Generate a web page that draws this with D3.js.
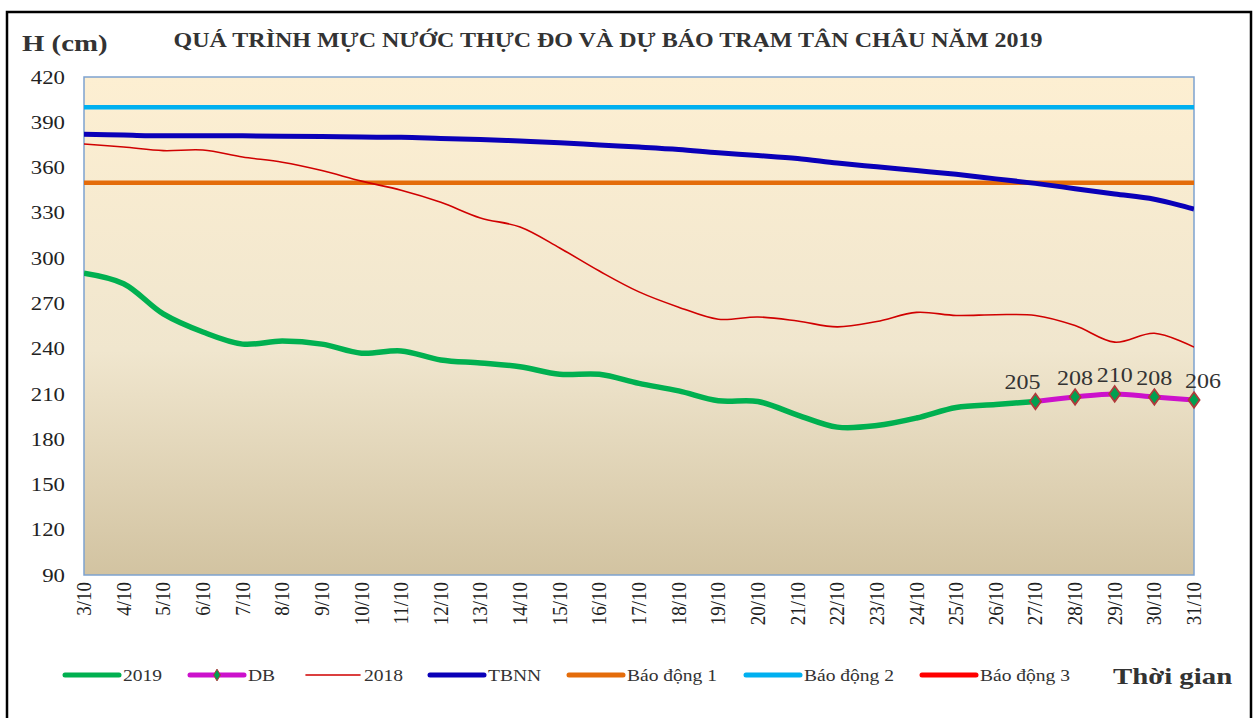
<!DOCTYPE html>
<html>
<head>
<meta charset="utf-8">
<script src="https://cdn.jsdelivr.net/npm/d3@7"></script>
<style>
  body { margin: 0; background: #fff; }
  text { font-family: "Liberation Serif", "DejaVu Serif", serif; }
</style>
</head>
<body>
<div id="chart"></div>
<script>
/* data */
var dates = ["3/10","4/10","5/10","6/10","7/10","8/10","9/10","10/10","11/10","12/10",
             "13/10","14/10","15/10","16/10","17/10","18/10","19/10","20/10","21/10","22/10",
             "23/10","24/10","25/10","26/10","27/10","28/10","29/10","30/10","31/10"];
var y2019 = [290,283,263,251,243,245,243,237,238.5,232.5,230.5,228,223,223,217,212,205.5,205,196,188,189,194,201,203,205];
var dbDates = ["27/10","28/10","29/10","30/10","31/10"];
var db = [205,208,210,208,206];
var y2018 = [375.6,373.6,371.2,371.6,367,363.5,358,351,345,337,326.6,320.6,306.7,291.4,277.6,267.5,259.5,261,258.3,254.4,258,264,262,262.5,262,255.3,244.3,250.2,241];
var tbnn = [382,381.5,381,381,381,380.8,380.5,380.2,380,379.3,378.6,377.6,376.5,375,373.6,372,369.8,368,366,363,360.5,358,355.5,352.5,349.5,346,342.5,339,332.5];
var alarms = [350, 400, 450];
var yTicks = [90,120,150,180,210,240,270,300,330,360,390,420];

var width = 1259, height = 718;
var margin = {left: 84, right: 65, top: 77, bottom: 143};
var sx = 1.2; /* the picture is a little wider than tall, text too */

var svg = d3.select("#chart").append("svg")
    .attr("width", width)
    .attr("height", height);

/* outer frame */
svg.append("rect")
    .attr("x", 7).attr("y", 12)
    .attr("width", 1244).attr("height", 720)
    .attr("fill", "none")
    .attr("stroke", "#000")
    .attr("stroke-width", 2.5);

var x = d3.scalePoint().domain(dates).range([margin.left, width - margin.right]);
var y = d3.scaleLinear().domain([90, 420]).range([height - margin.bottom, margin.top]);

/* plot background gradient */
var defs = svg.append("defs");
var grad = defs.append("linearGradient").attr("id", "bg")
    .attr("x1", 0).attr("y1", 0).attr("x2", 0).attr("y2", 1);
grad.append("stop").attr("offset", "0%").attr("stop-color", "#FDEFD2");
grad.append("stop").attr("offset", "55%").attr("stop-color", "#F0E6CE");
grad.append("stop").attr("offset", "100%").attr("stop-color", "#D2C3A1");

defs.append("clipPath").attr("id", "clip")
    .append("rect")
    .attr("x", x.range()[0]).attr("y", y(420))
    .attr("width", x.range()[1] - x.range()[0])
    .attr("height", y(90) - y(420));

svg.append("rect")
    .attr("x", x.range()[0]).attr("y", y(420))
    .attr("width", x.range()[1] - x.range()[0])
    .attr("height", y(90) - y(420))
    .attr("fill", "url(#bg)")
    .attr("stroke", "#7DA2CF")
    .attr("stroke-width", 1.5);

/* helper: text stretched sideways around its anchor */
function label(parent, px, py, str, size, opts) {
    opts = opts || {};
    var t = parent.append("g")
        .attr("transform", "translate(" + px + "," + py + ")scale(" + (opts.sx || sx) + ",1)")
        .append("text")
        .attr("font-size", size)
        .attr("fill", opts.fill || "#333")
        .attr("text-anchor", opts.anchor || "start")
        .attr("font-weight", opts.bold ? "bold" : null)
        .text(str);
    if (opts.dy) t.attr("dy", opts.dy);
    return t;
}

/* y axis labels */
var yg = svg.append("g");
yTicks.forEach(function(d) {
    label(yg, 65, y(d), d, 19, {anchor: "end", dy: "0.35em", fill: "#222"});
});

/* x axis labels, rotated */
svg.append("g").selectAll("text").data(dates)
    .enter().append("text")
    .attr("transform", function(d) { return "translate(" + (x(d) + 7) + "," + 582 + ")rotate(-90)scale(1,1.15)"; })
    .attr("text-anchor", "end")
    .attr("font-size", 19)
    .attr("fill", "#222")
    .text(function(d) { return d; });

var plot = svg.append("g").attr("clip-path", "url(#clip)");

/* alarm levels */
var alarmColors = ["#E46C0A", "#00B0F0", "#FF0000"];
alarms.forEach(function(a, i) {
    plot.append("line")
        .attr("x1", x.range()[0]).attr("x2", x.range()[1])
        .attr("y1", y(a)).attr("y2", y(a))
        .attr("stroke", alarmColors[i])
        .attr("stroke-width", 4.5);
});

var line = d3.line()
    .x(function(d) { return x(d[0]); })
    .y(function(d) { return y(d[1]); })
    .curve(d3.curveCatmullRom.alpha(0.5));

function pairs(xs, ys) { return ys.map(function(v, i) { return [xs[i], v]; }); }

plot.append("path").datum(pairs(dates, tbnn))
    .attr("fill", "none").attr("stroke", "#0A00B8").attr("stroke-width", 5)
    .attr("d", line);

plot.append("path").datum(pairs(dates, y2018))
    .attr("fill", "none").attr("stroke", "#D00000").attr("stroke-width", 1.6)
    .attr("d", line);

plot.append("path").datum(pairs(dates, y2019))
    .attr("fill", "none").attr("stroke", "#00B050").attr("stroke-width", 5.5)
    .attr("d", line);

plot.append("path").datum(pairs(dbDates, db))
    .attr("fill", "none").attr("stroke", "#CC11CC").attr("stroke-width", 5)
    .attr("d", line);

/* DB markers and labels */
var diamond = d3.symbol().type(d3.symbolDiamond).size(70);
svg.append("g").selectAll("path").data(pairs(dbDates, db))
    .enter().append("path")
    .attr("transform", function(d) { return "translate(" + x(d[0]) + "," + y(d[1]) + ")scale(1.25,1)"; })
    .attr("d", diamond)
    .attr("fill", "#00A050")
    .attr("stroke", "#B03A3A")
    .attr("stroke-width", 1.5);

var labelShift = {"27/10": -13, "31/10": 9};
var lg = svg.append("g");
pairs(dbDates, db).forEach(function(d) {
    label(lg, x(d[0]) + (labelShift[d[0]] || 0), y(d[1]) - 12, d[1], 20, {anchor: "middle"});
});

/* titles */
label(svg, 22, 51, "H (cm)", 24, {bold: true});
label(svg, 608, 47, "QUÁ TRÌNH MỰC NƯỚC THỰC ĐO VÀ DỰ BÁO TRẠM  TÂN CHÂU NĂM 2019", 20,
      {bold: true, anchor: "middle"});
label(svg, 1113, 684, "Thời gian", 24, {bold: true});

/* legend */
var legendNames = ["2019", "DB", "2018", "TBNN", "Báo động 1", "Báo động 2", "Báo động 3"];
var legendColors = ["#00B050", "#CC11CC", "#D00000", "#0A00B8", "#E46C0A", "#00B0F0", "#FF0000"];
var legendWidths = [5, 5, 1.6, 5, 5, 5, 5];
var legendX = [65, 190, 306, 430, 569, 746, 922];

var legend = svg.append("g").selectAll("g").data(legendNames)
    .enter().append("g")
    .attr("transform", function(d, i) { return "translate(" + legendX[i] + ",675)"; });

legend.append("line")
    .attr("x1", 0).attr("x2", 54)
    .attr("stroke", function(d, i) { return legendColors[i]; })
    .attr("stroke-width", function(d, i) { return legendWidths[i]; })
    .attr("stroke-linecap", "round");

legend.filter(function(d) { return d === "DB"; })
    .append("path")
    .attr("transform", "translate(27,0)")
    .attr("d", d3.symbol().type(d3.symbolDiamond).size(40))
    .attr("fill", "#00A050").attr("stroke", "#B03A3A").attr("stroke-width", 1);

legend.each(function(d) {
    label(d3.select(this), 58, 0, d, 17, {sx: 1.15, dy: "0.35em"});
});
</script>
</body>
</html>
